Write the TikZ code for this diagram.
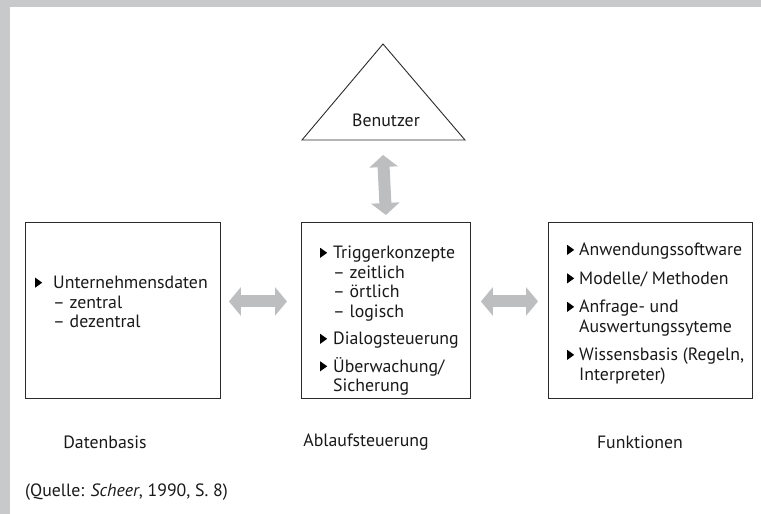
\documentclass[tikz,border=0pt]{standalone}
\usepackage{fontspec}
\setmainfont{PT Sans}
\usetikzlibrary{arrows.meta}
\definecolor{band}{HTML}{C8C9CB}
\definecolor{arr}{HTML}{BDBEC0}
\definecolor{boxc}{HTML}{2A2A2A}
\newcommand\bul[1]{\makebox[#1][l]{\tikz[baseline=0pt]\fill[black] (0,1pt)--(0,11pt)--(7pt,6pt)--cycle;}}
\newcommand\ind[1]{\hspace*{#1}}
\tikzset{
  box/.style={draw=boxc, line width=0.9pt, anchor=north west, inner sep=0pt},
  txt/.style={anchor=north west, inner sep=0pt, align=left, text=black!90, font=\fontsize{17.8}{19.5}\selectfont},
  lbl/.style={inner sep=0pt, text=black!90, font=\fontsize{17.8}{19.5}\selectfont},
  dbl/.style={draw=arr, line width=12pt, {Triangle[width=28pt,length=12pt]}-{Triangle[width=28pt,length=12pt]}}
}
\begin{document}
\begin{tikzpicture}[x=1pt,y=-1pt]
\useasboundingbox (0,0) rectangle (761,514);
\fill[band] (0,0) rectangle (761,7);
\fill[band] (0,0) rectangle (10,514);
% triangle
\coordinate (apex) at (383,44);
\coordinate (bl) at (302,140);
\coordinate (br) at (465,140);
\coordinate (tribase) at (383,140);
\draw[boxc, line width=0.9pt, line join=miter] (apex) -- (br) -- (bl) -- cycle;
\node[lbl] (benutzer) at (386,120) {Benutzer};
% boxes
\node[box, minimum width=195pt, minimum height=176pt] (db) at (25,222) {};
\node[box, minimum width=169pt, minimum height=176pt] (ab) at (301,222) {};
\node[box, minimum width=204pt, minimum height=176pt] (fu) at (548,222) {};
% box texts
\node[txt] (dbt) at (35,276) {\bul{18pt}Unternehmensdaten\\\ind{18pt}– zentral\\\ind{18pt}– dezentral};
\node[txt] (abt) at (320,246) {\bul{13pt}Triggerkonzepte\\\ind{13pt}– zeitlich\\\ind{13pt}– örtlich\\\ind{13pt}– logisch\\[8pt]\bul{13pt}Dialogsteuerung\\[8pt]\bul{13pt}Überwachung/\\\ind{13pt}Sicherung};
\node[txt] (fut) at (567,243) {\bul{12pt}Anwendungssoftware\\[9pt]\bul{12pt}Modelle/ Methoden\\[9pt]\bul{12pt}Anfrage- und\\\ind{12pt}Auswertungssyteme\\[9pt]\bul{12pt}Wissensbasis (Regeln,\\\ind{12pt}Interpreter)};
% arrows
\draw[dbl] ([yshift=-15pt]tribase) -- ([yshift=7pt]ab.north);
\draw[dbl] ([xshift=8pt,yshift=9pt]db.east) -- ([xshift=-14pt,yshift=9pt]ab.west);
\draw[dbl] ([xshift=10pt,yshift=9pt]ab.east) -- ([xshift=-10pt,yshift=9pt]fu.west);
% labels
\node[lbl] (l1) at (105,442) {Datenbasis};
\node[lbl] (l2) at (366,442) {Ablaufsteuerung};
\node[lbl] (l3) at (640,442) {Funktionen};
\node[lbl, anchor=west] (src) at (25,492) {(Quelle: \textit{Scheer}, 1990, S. 8)};
\end{tikzpicture}
\end{document}
